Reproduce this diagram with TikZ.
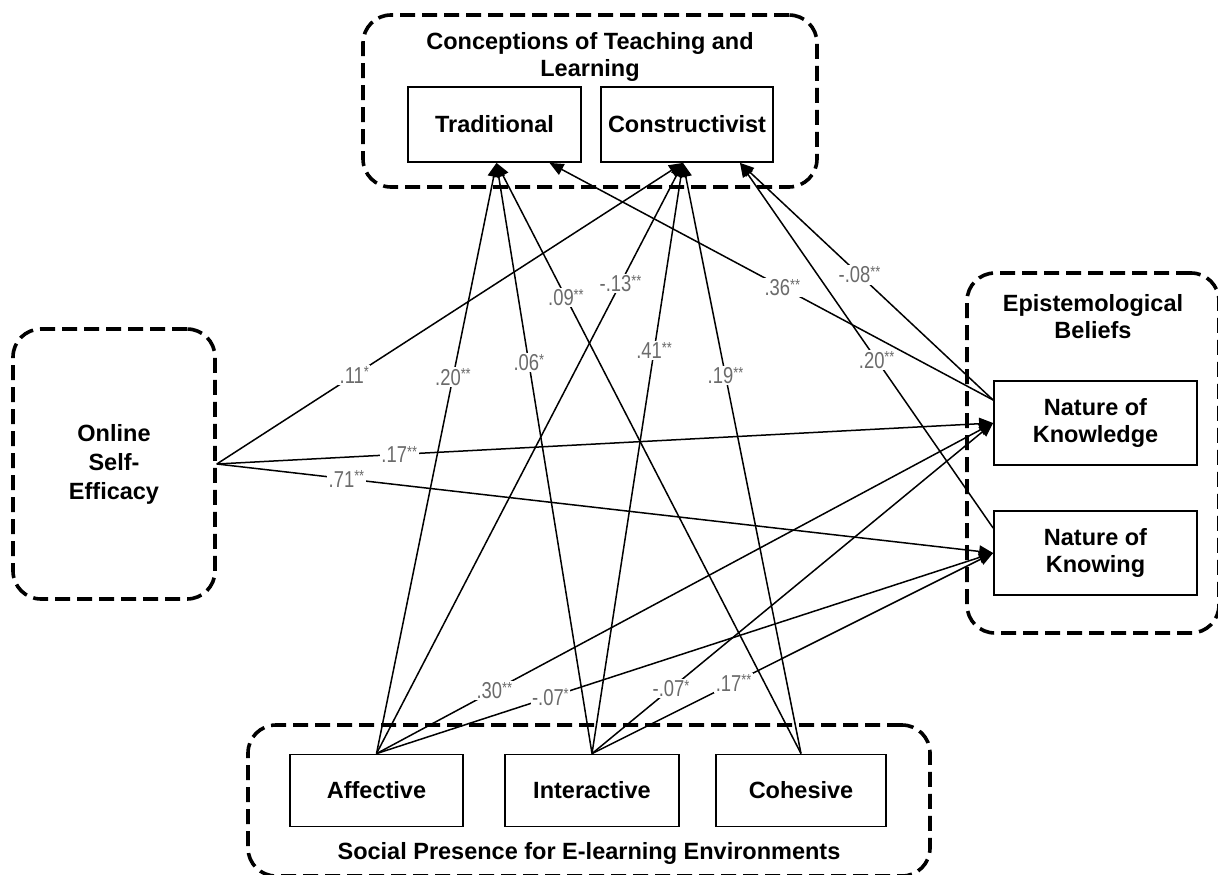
\documentclass[tikz,border=0pt]{standalone}
\usepackage{fontspec}
\setmainfont{Liberation Sans}
\usetikzlibrary{arrows.meta}
\newcommand\sg[1]{\raisebox{5.5pt}{\fontsize{16}{16}\selectfont #1}}
\newcommand\lb[2]{\scalebox{0.8}[1]{#1\sg{#2}}}
\begin{document}
\begin{tikzpicture}[x=1pt,y=-1pt,
 grp/.style={draw, rectangle, rounded corners=28pt, line width=3.6pt, dash pattern=on 15pt off 7pt, inner sep=0pt},
 box/.style={draw, rectangle, line width=1.8pt, fill=white, inner sep=0pt, align=center, font=\bfseries\fontsize{23.5}{27}\selectfont},
 ttl/.style={align=center, inner sep=0pt, font=\bfseries\fontsize{23.5}{27}\selectfont},
 arr/.style={line width=1.5pt, -{Triangle[length=14pt,width=12pt]}},
 lab/.style={fill=white, inner sep=1.5pt, text=black!58, font=\fontsize{23}{23}\selectfont}]
\path[use as bounding box, fill=white] (0,0) rectangle (1218,875);
\clip (0,0) rectangle (1218,875);
% groups
\node[grp, minimum width=454pt, minimum height=172pt] (gtop) at (590,101) {};
\node[grp, minimum width=202pt, minimum height=270pt, align=center, font=\bfseries\fontsize{23.5}{29}\selectfont] (gose) at (114,464) {Online\\Self-\\Efficacy};
\node[grp, minimum width=252pt, minimum height=360pt] (gepi) at (1093,453) {};
\node[grp, minimum width=682pt, minimum height=151pt] (gbot) at (589,800.5) {};
% titles
\node[ttl] (ttop) at (590,57) {Conceptions of Teaching and\\Learning};
\node[ttl] (tepi) at (1093,317) {Epistemological\\Beliefs};
\node[ttl] (tbot) at (589,853) {Social Presence for E-learning Environments};
% boxes
\node[box, minimum width=173pt, minimum height=75pt] (trad) at (494.5,124.5) {Traditional};
\node[box, minimum width=172pt, minimum height=75pt] (cons) at (687,124.5) {Constructivist};
\node[box, minimum width=203pt, minimum height=84pt] (nkn) at (1095.5,423) {Nature of\\Knowledge};
\node[box, minimum width=203pt, minimum height=84pt] (nki) at (1095.5,553) {Nature of\\Knowing};
\node[box, minimum width=173pt, minimum height=72pt] (aff) at (376.5,790.5) {Affective};
\node[box, minimum width=174pt, minimum height=72pt] (inter) at (592,790.5) {Interactive};
\node[box, minimum width=170pt, minimum height=72pt] (coh) at (801,790.5) {Cohesive};
% connectors
\draw[arr] (gose.east) -- node[lab,pos=0.295]{\lb{.11}{*}} ([xshift=-4pt]cons.south);
\draw[arr] (gose.east) -- node[lab,pos=0.235]{\lb{.17}{**}} (nkn.west);
\draw[arr] (gose.east) -- node[lab,pos=0.167]{\lb{.71}{**}} (nki.west);
\draw[arr] (aff.north) -- node[lab,pos=0.637]{\lb{.20}{**}} ([xshift=2pt]trad.south);
\draw[arr] (inter.north) -- node[lab,pos=0.662]{\lb{.06}{*}} ([xshift=2pt]trad.south);
\draw[arr] (coh.north) -- node[lab,pos=0.772]{\lb{.09}{**}} ([xshift=2pt]trad.south);
\draw[arr] (aff.north) -- node[lab,pos=0.796]{\lb{-.13}{**}} ([xshift=-4pt]cons.south);
\draw[arr] (inter.north) -- node[lab,pos=0.682]{\lb{.41}{**}} ([xshift=-4pt]cons.south);
\draw[arr] (coh.north) -- node[lab,pos=0.64]{\lb{.19}{**}} ([xshift=-4pt]cons.south);
\draw[arr] ([yshift=23pt]nkn.west) -- node[lab,pos=0.475]{\lb{.36}{**}} ([xshift=55pt]trad.south);
\draw[arr] ([yshift=23pt]nkn.west) -- node[lab,pos=0.528]{\lb{-.08}{**}} ([xshift=53pt]cons.south);
\draw[arr] ([yshift=25pt]nki.west) -- node[lab,pos=0.46]{\lb{.20}{**}} ([xshift=53pt]cons.south);
\draw[arr] (aff.north) -- node[lab,pos=0.191]{\lb{.30}{**}} (nkn.west);
\draw[arr] (aff.north) -- node[lab,pos=0.282]{\lb{-.07}{*}} (nki.west);
\draw[arr] (inter.north) -- node[lab,pos=0.197]{\lb{-.07}{*}} (nkn.west);
\draw[arr] (inter.north) -- node[lab,pos=0.353]{\lb{.17}{**}} (nki.west);
\end{tikzpicture}
\end{document}
